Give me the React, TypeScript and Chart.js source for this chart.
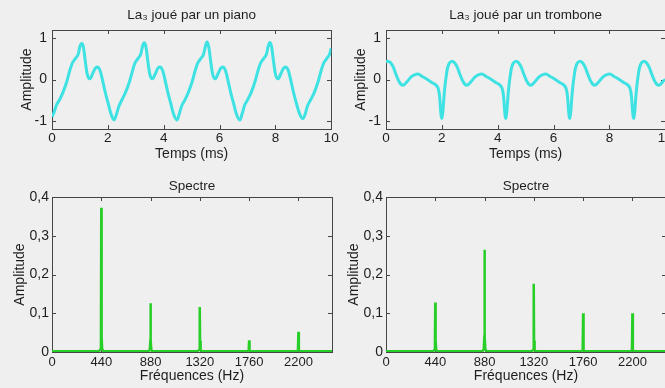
import React, { useEffect, useRef } from 'react';
import { Chart, registerables } from 'chart.js';

Chart.register(...registerables);

// ---------- data ----------
const timeTicks = [0, 2, 4, 6, 8, 10];
const ampTicks = [-1, 0, 1];
const freqTicks = [0, 440, 880, 1320, 1760, 2200];
const specTicks = [0, 0.1, 0.2, 0.3, 0.4];
const specTickLabels = ['0', '0,1', '0,2', '0,3', '0,4'];

const pianoTitle = 'La₃ joué par un piano';
const tromboneTitle = 'La₃ joué par un trombone';
const spectrumTitle = 'Spectre';
const timeLabel = 'Temps (ms)';
const freqLabel = 'Fréquences (Hz)';
const ampLabel = 'Amplitude';

// [time (ms), amplitude]
const pianoWave: [number, number][] = [
  [0, -0.9], [0.06, -0.82], [0.16, -0.62], [0.28, -0.48], [0.4, -0.3], [0.53, -0.05], [0.63, 0.2], [0.73, 0.4], [0.83, 0.5], [0.93, 0.6], [1.0, 0.8], [1.06, 0.87], [1.12, 0.8], [1.2, 0.4], [1.28, 0.08], [1.36, 0.02], [1.46, 0.15], [1.56, 0.28], [1.64, 0.3], [1.72, 0.22], [1.82, -0.05], [1.92, -0.35], [2.02, -0.6], [2.12, -0.85], [2.22, -0.98],
  [2.3, -0.86], [2.4, -0.64], [2.52, -0.47], [2.64, -0.3], [2.77, -0.06], [2.87, 0.18], [2.97, 0.4], [3.07, 0.5], [3.17, 0.6], [3.24, 0.8], [3.3, 0.89], [3.36, 0.8], [3.44, 0.4], [3.52, 0.08], [3.6, 0.02], [3.7, 0.14], [3.8, 0.28], [3.88, 0.3], [3.96, 0.22], [4.06, -0.05], [4.16, -0.35], [4.26, -0.6], [4.36, -0.85], [4.47, -0.98],
  [4.55, -0.85], [4.65, -0.63], [4.77, -0.48], [4.89, -0.3], [5.02, -0.05], [5.12, 0.2], [5.22, 0.4], [5.32, 0.5], [5.42, 0.6], [5.49, 0.8], [5.55, 0.91], [5.61, 0.8], [5.69, 0.4], [5.77, 0.08], [5.85, 0.02], [5.95, 0.15], [6.05, 0.28], [6.13, 0.3], [6.21, 0.22], [6.31, -0.05], [6.41, -0.35], [6.51, -0.6], [6.61, -0.85], [6.72, -0.98],
  [6.8, -0.85], [6.9, -0.62], [7.02, -0.47], [7.14, -0.3], [7.27, -0.05], [7.37, 0.2], [7.47, 0.4], [7.57, 0.5], [7.67, 0.6], [7.74, 0.8], [7.8, 0.9], [7.86, 0.8], [7.94, 0.4], [8.02, 0.08], [8.1, 0.02], [8.2, 0.15], [8.3, 0.28], [8.38, 0.3], [8.46, 0.22], [8.56, -0.05], [8.66, -0.35], [8.76, -0.6], [8.86, -0.82], [8.98, -0.95],
  [9.06, -0.85], [9.16, -0.62], [9.28, -0.47], [9.4, -0.3], [9.53, -0.05], [9.63, 0.2], [9.73, 0.4], [9.83, 0.5], [9.93, 0.6], [10, 0.76],
];

const tromboneWave: [number, number][] = [
  [0, 0.43], [0.06, 0.44], [0.16, 0.41], [0.26, 0.3], [0.36, 0.12], [0.46, -0.04], [0.56, -0.13], [0.66, -0.12], [0.78, -0.03], [0.91, 0.07], [1.04, 0.12], [1.16, 0.13], [1.28, 0.08], [1.44, 0.02], [1.61, -0.06], [1.76, -0.12], [1.86, -0.2], [1.92, -0.42], [1.96, -0.78],
  [2.0, -0.94], [2.04, -0.75], [2.09, -0.3], [2.16, 0.1], [2.24, 0.36], [2.35, 0.44], [2.45, 0.41], [2.55, 0.3], [2.65, 0.12], [2.75, -0.04], [2.85, -0.13], [2.95, -0.12], [3.07, -0.03], [3.2, 0.07], [3.33, 0.12], [3.45, 0.13], [3.57, 0.08], [3.73, 0.02], [3.9, -0.06], [4.05, -0.12], [4.15, -0.2], [4.21, -0.42], [4.25, -0.78],
  [4.29, -0.94], [4.33, -0.75], [4.38, -0.3], [4.45, 0.1], [4.53, 0.36], [4.64, 0.44], [4.74, 0.41], [4.84, 0.3], [4.94, 0.12], [5.04, -0.04], [5.14, -0.13], [5.24, -0.12], [5.36, -0.03], [5.49, 0.07], [5.62, 0.12], [5.74, 0.13], [5.86, 0.08], [6.02, 0.02], [6.19, -0.06], [6.34, -0.12], [6.44, -0.2], [6.5, -0.42], [6.54, -0.78],
  [6.58, -0.94], [6.62, -0.75], [6.67, -0.3], [6.74, 0.1], [6.82, 0.36], [6.93, 0.44], [7.03, 0.41], [7.13, 0.3], [7.23, 0.12], [7.33, -0.04], [7.43, -0.13], [7.53, -0.12], [7.65, -0.03], [7.78, 0.07], [7.91, 0.12], [8.03, 0.13], [8.15, 0.08], [8.31, 0.02], [8.48, -0.06], [8.63, -0.12], [8.73, -0.2], [8.79, -0.42], [8.83, -0.78],
  [8.87, -0.94], [8.91, -0.75], [8.96, -0.3], [9.03, 0.1], [9.11, 0.36], [9.22, 0.44], [9.32, 0.41], [9.42, 0.3], [9.52, 0.12], [9.62, -0.04], [9.72, -0.13], [9.82, -0.12], [9.94, -0.03], [10, 0.0],
];

// [frequency (Hz), amplitude]
const pianoSpectrum: [number, number][] = [
  [0, 0.002], [420, 0.002], [432, 0.007], [437, 0.04], [440, 0.372], [443, 0.04], [448, 0.007], [460, 0.002],
  [860, 0.002], [873, 0.005], [878, 0.03], [880, 0.126], [882, 0.03], [887, 0.005], [900, 0.002],
  [1300, 0.002], [1313, 0.005], [1318, 0.03], [1320, 0.116], [1322, 0.03], [1327, 0.005], [1340, 0.002],
  [1745, 0.002], [1756, 0.004], [1760, 0.03], [1764, 0.004], [1775, 0.002],
  [2185, 0.002], [2196, 0.005], [2200, 0.052], [2204, 0.005], [2215, 0.002], [2500, 0.002],
];

const tromboneSpectrum: [number, number][] = [
  [0, 0.002], [420, 0.002], [432, 0.005], [437, 0.03], [440, 0.128], [443, 0.03], [448, 0.005], [460, 0.002],
  [860, 0.002], [873, 0.006], [878, 0.04], [880, 0.264], [882, 0.04], [887, 0.006], [900, 0.002],
  [1300, 0.002], [1313, 0.005], [1318, 0.03], [1320, 0.176], [1322, 0.03], [1327, 0.005], [1340, 0.002],
  [1745, 0.002], [1756, 0.005], [1760, 0.1], [1764, 0.005], [1775, 0.002],
  [2185, 0.002], [2196, 0.005], [2200, 0.1], [2204, 0.005], [2215, 0.002], [2500, 0.002],
];

// ---------- style ----------
const FONT = '"Liberation Sans", Arial, Helvetica, sans-serif';
const TEXT = '#1e1e1e';
const BG = '#efefef';
const CYAN = 'rgb(62, 226, 226)';
const GREEN = 'rgb(40, 206, 40)';

const boxPlugin = {
  id: 'matlabBox',
  beforeDatasetsDraw(chart: any) {
    const { ctx, chartArea: a, scales } = chart;
    const L = Math.round(a.left), R = Math.round(a.right), T = Math.round(a.top), B = Math.round(a.bottom);
    ctx.save();
    ctx.strokeStyle = '#454545';
    ctx.lineWidth = 1;
    ctx.strokeRect(L + 0.5, T + 0.5, R - L, B - T);
    const len = 4;
    ctx.beginPath();
    for (const t of scales.x.ticks) {
      const px = Math.round(scales.x.getPixelForValue(t.value)) + 0.5;
      ctx.moveTo(px, B); ctx.lineTo(px, B - len);
      ctx.moveTo(px, T); ctx.lineTo(px, T + len);
    }
    for (const t of scales.y.ticks) {
      const py = Math.round(scales.y.getPixelForValue(t.value)) + 0.5;
      ctx.moveTo(L, py); ctx.lineTo(L + len, py);
      ctx.moveTo(R, py); ctx.lineTo(R - len, py);
    }
    ctx.stroke();
    ctx.restore();
  },
};

const noGrid = { display: false, drawTicks: false, tickLength: 0 };

function waveConfig(title: string, data: [number, number][]) {
  return {
    type: 'line' as const,
    data: {
      datasets: [{
        data: data.map(([x, y]) => ({ x, y })),
        borderColor: CYAN,
        borderWidth: 3,
        pointRadius: 0,
        tension: 0.4,
        fill: false,
      }],
    },
    options: {
      responsive: false,
      animation: false as const,
      layout: { padding: { left: 0, right: 8, top: 0, bottom: 0 } },
      plugins: {
        legend: { display: false },
        tooltip: { enabled: false },
        title: {
          display: true, text: title, fullSize: false, color: TEXT,
          font: { family: FONT, size: 13.5, weight: 'normal' as const },
          padding: { top: 7, bottom: 6.8 },
        },
      },
      scales: {
        x: {
          type: 'linear' as const, min: 0, max: 10,
          grid: noGrid, border: { display: false },
          afterBuildTicks: (s: any) => { s.ticks = timeTicks.map((v) => ({ value: v })); },
          afterFit: (s: any) => { s.height = 41; },
          ticks: { autoSkip: false, maxRotation: 0, padding: 1.2, color: TEXT, font: { family: FONT, size: 13.5 }, callback: (v: any) => String(v) },
          title: { display: true, text: timeLabel, color: TEXT, font: { family: FONT, size: 14 }, padding: { top: 0, bottom: 7.1 } },
        },
        y: {
          type: 'linear' as const, min: -1.2, max: 1.2,
          grid: noGrid, border: { display: false },
          afterBuildTicks: (s: any) => { s.ticks = ampTicks.map((v) => ({ value: v })); },
          afterFit: (s: any) => { s.width = 52; },
          ticks: { autoSkip: false, padding: 5, color: TEXT, font: { family: FONT, size: 14 }, callback: (v: any) => String(v) },
          title: { display: true, text: ampLabel, color: TEXT, font: { family: FONT, size: 14 }, padding: { top: 19, bottom: 0 } },
        },
      },
    },
    plugins: [boxPlugin],
  };
}

function specConfig(data: [number, number][]) {
  return {
    type: 'line' as const,
    data: {
      datasets: [{
        data: data.map(([x, y]) => ({ x, y })),
        borderColor: GREEN,
        borderWidth: 2.5,
        pointRadius: 0,
        tension: 0,
        fill: false,
      }],
    },
    options: {
      responsive: false,
      animation: false as const,
      layout: { padding: { left: 0, right: 8, top: 0, bottom: 0 } },
      plugins: {
        legend: { display: false },
        tooltip: { enabled: false },
        title: {
          display: true, text: spectrumTitle, fullSize: false, color: TEXT,
          font: { family: FONT, size: 13.5, weight: 'normal' as const },
          padding: { top: 10, bottom: 2.8 },
        },
      },
      scales: {
        x: {
          type: 'linear' as const, min: 0, max: 2500,
          grid: noGrid, border: { display: false },
          afterBuildTicks: (s: any) => { s.ticks = freqTicks.map((v) => ({ value: v })); },
          afterFit: (s: any) => { s.height = 36; },
          ticks: { autoSkip: false, maxRotation: 0, padding: 2.2, color: TEXT, font: { family: FONT, size: 13 }, callback: (v: any) => String(v) },
          title: { display: true, text: freqLabel, color: TEXT, font: { family: FONT, size: 14 }, padding: { top: 0, bottom: 3.1 } },
        },
        y: {
          type: 'linear' as const, min: 0, max: 0.4,
          grid: noGrid, border: { display: false },
          afterBuildTicks: (s: any) => { s.ticks = specTicks.map((v) => ({ value: v })); },
          afterFit: (s: any) => { s.width = 52; },
          ticks: {
            autoSkip: false, padding: 3, color: TEXT, font: { family: FONT, size: 14 },
            callback: (v: any) => { const i = specTicks.indexOf(v); return i >= 0 ? specTickLabels[i] : String(v); },
          },
          title: { display: true, text: ampLabel, color: TEXT, font: { family: FONT, size: 14 }, padding: { top: 11.6, bottom: 0 } },
        },
      },
    },
    plugins: [boxPlugin],
  };
}

function Panel({ config, left, top, width, height }: { config: any; left: number; top: number; width: number; height: number }) {
  const ref = useRef<HTMLCanvasElement | null>(null);
  useEffect(() => {
    if (!ref.current) return;
    const chart = new Chart(ref.current, config);
    return () => chart.destroy();
  }, [config]);
  return (
    <canvas
      ref={ref}
      width={width}
      height={height}
      style={{ position: 'absolute', left, top, width, height, display: 'block' }}
    />
  );
}

const cfgPianoWave = waveConfig(pianoTitle, pianoWave);
const cfgTromboneWave = waveConfig(tromboneTitle, tromboneWave);
const cfgPianoSpec = specConfig(pianoSpectrum);
const cfgTromboneSpec = specConfig(tromboneSpectrum);

export default function App() {
  return (
    <div
      style={{
        position: 'fixed', left: 0, top: 0, width: 665, height: 388,
        overflow: 'hidden', background: BG,
      }}
    >
      <Panel config={cfgPianoWave} left={0} top={0} width={340} height={170} />
      <Panel config={cfgTromboneWave} left={334} top={0} width={340} height={170} />
      <Panel config={cfgPianoSpec} left={0} top={168} width={340} height={220} />
      <Panel config={cfgTromboneSpec} left={334} top={168} width={340} height={220} />
    </div>
  );
}
